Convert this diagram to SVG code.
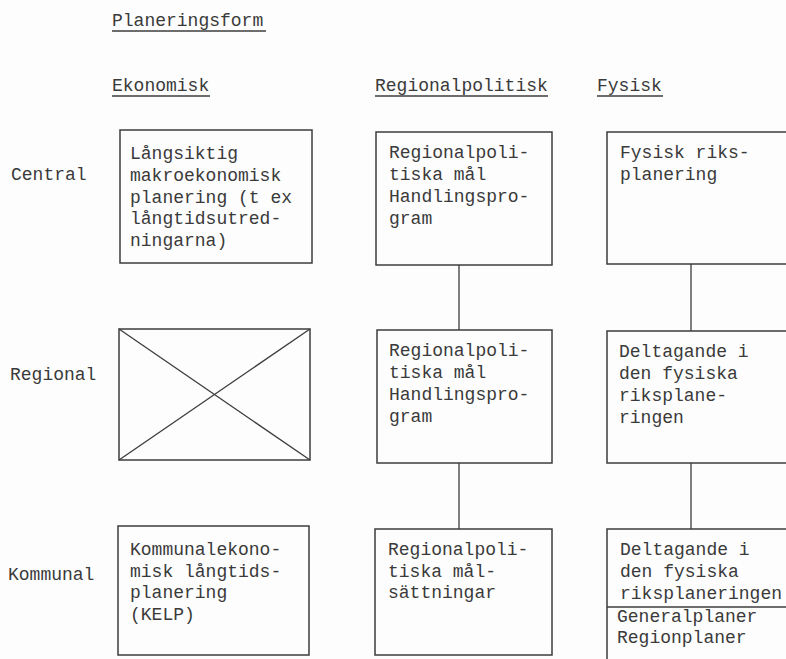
<svg xmlns="http://www.w3.org/2000/svg" width="786" height="659" viewBox="0 0 786 659">
  <style>
    text { font-family: "Liberation Mono", "DejaVu Sans Mono", monospace; font-size: 18px; fill: #3a3a3a; }
    .box { fill: none; stroke: #3c3c3c; stroke-width: 1.5; }
    .line { stroke: #3c3c3c; stroke-width: 1.3; fill: none; }
    .ul { stroke: #3c3c3c; stroke-width: 1.3; }
  </style>
  <rect width="786" height="659" fill="#fdfdfd"/>

  <!-- headings -->
  <g id="headings">
    <text x="112" y="26">Planeringsform</text>
    <line class="ul" x1="112" y1="31" x2="266" y2="31"/>
    <text x="112" y="91">Ekonomisk</text>
    <line class="ul" x1="112" y1="96" x2="210" y2="96"/>
    <text x="375" y="91">Regionalpolitisk</text>
    <line class="ul" x1="375" y1="96" x2="548" y2="96"/>
    <text x="597" y="91">Fysisk</text>
    <line class="ul" x1="597" y1="96" x2="663" y2="96"/>
  </g>

  <!-- row labels -->
  <g id="rows">
    <text x="11" y="180">Central</text>
    <text x="10" y="380">Regional</text>
    <text x="8" y="580">Kommunal</text>
  </g>

  <!-- connectors -->
  <g id="connectors">
    <line class="line" x1="459" y1="265" x2="459" y2="330"/>
    <line class="line" x1="459" y1="463" x2="459" y2="529"/>
    <line class="line" x1="691" y1="264" x2="691" y2="331"/>
    <line class="line" x1="691" y1="463" x2="691" y2="529"/>
  </g>

  <!-- central row -->
  <g id="ek-central">
    <rect class="box" x="120" y="130" width="192" height="133"/>
    <text x="130" y="159">Långsiktig</text>
    <text x="130" y="181">makroekonomisk</text>
    <text x="130" y="203">planering (t ex</text>
    <text x="130" y="224">långtidsutred-</text>
    <text x="130" y="246">ningarna)</text>
  </g>
  <g id="reg-central">
    <rect class="box" x="376" y="132" width="176" height="133"/>
    <text x="389" y="158">Regionalpoli-</text>
    <text x="389" y="180">tiska mål</text>
    <text x="389" y="202">Handlingspro-</text>
    <text x="389" y="224">gram</text>
  </g>
  <g id="fys-central">
    <rect class="box" x="607" y="132" width="180" height="132"/>
    <text x="620" y="158">Fysisk riks-</text>
    <text x="620" y="180">planering</text>
  </g>

  <!-- regional row -->
  <g id="ek-regional">
    <rect class="box" x="119" y="329" width="191" height="131"/>
    <line class="line" x1="119" y1="329" x2="310" y2="460"/>
    <line class="line" x1="310" y1="329" x2="119" y2="460"/>
  </g>
  <g id="reg-regional">
    <rect class="box" x="377" y="330" width="175" height="133"/>
    <text x="389" y="356">Regionalpoli-</text>
    <text x="389" y="378">tiska mål</text>
    <text x="389" y="400">Handlingspro-</text>
    <text x="389" y="422">gram</text>
  </g>
  <g id="fys-regional">
    <rect class="box" x="607" y="331" width="180" height="132"/>
    <text x="619" y="357">Deltagande i</text>
    <text x="619" y="379">den fysiska</text>
    <text x="619" y="401">riksplane-</text>
    <text x="619" y="423">ringen</text>
  </g>

  <!-- kommunal row -->
  <g id="ek-kommunal">
    <rect class="box" x="118" y="526" width="191" height="129"/>
    <text x="130" y="555">Kommunalekono-</text>
    <text x="130" y="577">misk långtids-</text>
    <text x="130" y="598">planering</text>
    <text x="130" y="620">(KELP)</text>
  </g>
  <g id="reg-kommunal">
    <rect class="box" x="375" y="529" width="177" height="126"/>
    <text x="388" y="555">Regionalpoli-</text>
    <text x="388" y="577">tiska mål-</text>
    <text x="388" y="598">sättningar</text>
  </g>
  <g id="fys-kommunal">
    <rect class="box" x="607" y="529" width="180" height="140"/>
    <line class="line" x1="607" y1="607" x2="786" y2="607"/>
    <text x="620" y="555">Deltagande i</text>
    <text x="620" y="577">den fysiska</text>
    <text x="620" y="599">riksplaneringen</text>
    <text x="617" y="622">Generalplaner</text>
    <text x="617" y="643">Regionplaner</text>
  </g>
</svg>
